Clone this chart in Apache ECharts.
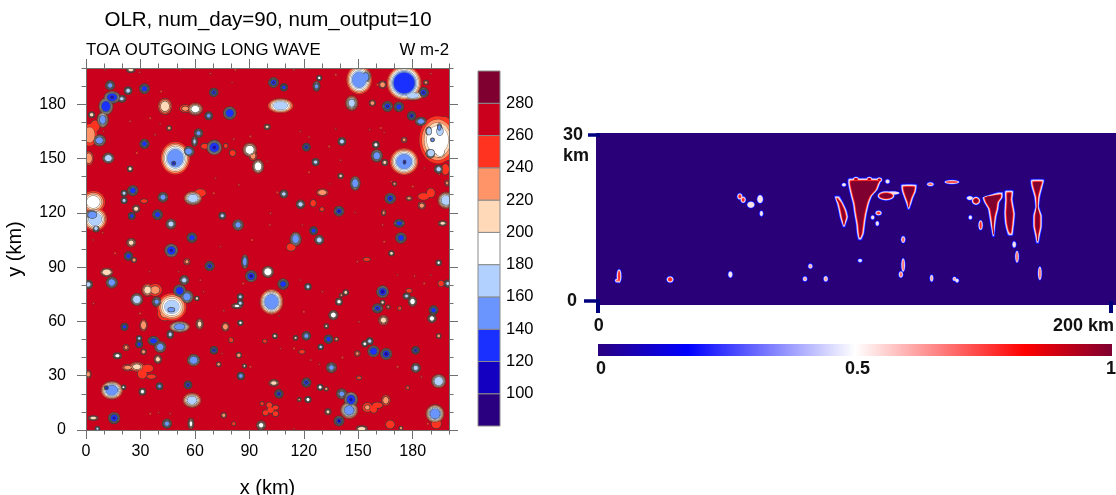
<!DOCTYPE html>
<html><head><meta charset="utf-8">
<style>html,body{margin:0;padding:0;background:#fff}#c{width:1116px;height:495px}</style>
<script src="https://cdn.jsdelivr.net/npm/echarts@6/dist/echarts.min.js"></script>
</head><body><div id="c"></div>
<script>
// ---- axis ticks / labels
const olrMajorTicks=[0,30,60,90,120,150,180];
const olrLevels=[260,240,220,200,180,160,140,120,100];
const olrLevelColors=['#ff3320','#ff9468','#ffd9b8','#ffffff','#b3d1ff','#6a95ff','#1a30ff','#1400c0','#2a0080'];
const olrBarEdges=[80,100,120,140,160,180,200,220,240,260,280,300];
const olrBarColors=['#2a0080','#1400c0','#1a30ff','#6a95ff','#b3d1ff','#ffffff','#ffd9b8','#ff9468','#ff3320','#ca001c','#7f0030'];
const olrBarLabels=[100,120,140,160,180,200,220,240,260,280];
const fractionStops=[[0,'#2a0080'],[0.175,'#0000ff'],[0.5,'#ffffff'],[0.83,'#ff0000'],[1,'#7f0030']];
// ---- OLR storm cells: [x km, y km, x half width km, y half width km, minimum W m-2]
const olrCellsNorthWest=[
[13.3,190.4,2.4,2.4,150],[23.2,187.5,2,2,165],[32.2,188.6,2.6,2.6,125],[14.4,183.8,4.3,3.3,115],[11,178.8,3.8,4.6,125],
[9.2,171.4,3,4.2,150],[19.7,183,2.2,1.8,175],[3.1,174.2,1.5,1.5,200],[2,163,4,6,225],[5,168,2.5,3,240],[7.4,160,3.3,3,155],[12.3,150.2,3,2.7,165],
[1.5,150.2,2.4,3.7,225],[32.2,158.1,2.4,2.4,125],[24.3,144.3,1.4,1.4,200],[43.5,178.8,3.7,4.4,205],[60.2,177.3,4,3.3,190],
[54.7,177.6,3,2,238],[67.6,173.6,2,2,150],[70.4,186.5,2.2,2.2,115],[79.2,175.1,3.4,3.4,130],[62,164,2.2,2.2,150],[59.8,159.4,1.4,2.5,175],
[56.5,153.9,3,2.6,145],[49.2,150.2,8,9,150],[48.3,147.4,1.8,1.8,118],[70.7,156.1,4,4,115],[65.5,156.8,2,1.4,240],[90.2,154.8,3.7,3.7,190],
[92,151.5,2,2.5,225],[94.8,145.6,3,3.7,190],[80.8,153,1.6,1.6,240],[77,157,1,1.2,240],[25.8,132.3,2.7,2.7,130],[21,130.8,1.5,1.5,165],[21,126.8,1.5,1.5,160],
[27.6,122.3,1.9,1.9,205],[25.2,118.3,1.7,1.7,125],[32,126.5,1.8,1,240],[42.4,128.6,2.6,2.6,140],[58.9,128,4.8,3.7,165],[63,131,3,2,240],
[39.4,119,2.6,2.6,125],[46.8,113.8,2.6,2.6,160],[58.4,106.3,2.6,2.6,130],[75.1,118.4,1.7,1.7,170],[83.8,113.3,2.8,2.8,140],
[4,126,6.5,6,190],[5,116.5,6.5,6.5,170],[3.5,118.8,3.8,3,145],[5.5,111.5,1.8,2,160],[24.7,199,2.2,1.4,200],[24.9,103.5,2.4,2.2,210],[47,99.2,3.5,3.5,116],
[45.8,166.8,1.1,1.1,220],[99.8,167.5,1.5,1.3,215],[103.3,192,2.6,2.6,115],[107.2,179.2,7,4,170],[96,145,1.5,2,235]
];
const olrCellsNorthEast=[
[109,189.3,1.8,1.8,130],[127,189.9,1.8,2.6,155],[128.5,194.5,1.2,1.2,190],[150.5,193.5,7,8,150],[154,195,3,4,145],[163.4,190.8,1.8,1.8,220],
[175.3,191.7,9.5,9.5,122],[180,184.8,6,2.5,170],[185.9,186.5,2.6,2.6,115],[187.3,192,1.2,1,235],[146.4,180.6,3.3,4,175],[157.8,180.6,1.5,1.5,225],
[166.1,178.8,2.7,2.7,115],[172.4,178.6,2.5,2.5,135],[179.4,173.6,2.2,2.2,110],[184.5,170.5,3,2.2,155],[193.7,160.3,10,13,184],[197.5,170,3,3,240],[191,168,3,3,240],[199,152,2,3,240],
[195,154.3,4,4.8,180],[190.9,160.3,1.5,1.5,150],[194.7,167.1,1.5,2.8,150],[190,153,3,3,165],[195,165,3,4,165],[189,165,2,3,165],[141,159.4,2,2,160],[121.4,156.3,2,2,115],[175.3,160.3,1.3,1.3,235],
[159.7,157.6,1.7,1.7,190],[160.2,151.5,3,3.3,150],[164.6,147.8,1.5,1.5,210],[175.3,148.3,7.8,7.4,150],[175.5,148,1.2,2,115],[126.5,148,1.8,1.8,165],[140.3,140.4,1.3,1.3,215],
[148.3,136.3,2.6,3.7,145],[194.3,144.1,2.2,2.2,160],[198,144,2,3,240],[109,130.4,2,2,170],[130.2,131.2,3,1.8,225],[118.2,124.7,2.2,2.2,160],
[125.2,125.3,1.5,1.8,240],[139.4,120.9,2.6,2.6,112],[167.6,127.9,2.8,2.8,115],[186,129,3,1.8,240],[190,131,2.2,2.4,240],[178,128,1.5,1,230],[185,124,1.8,1.8,225],
[198.4,126.9,4.5,4.5,165],[172.6,114.2,2.8,2,125],[173.5,106.1,2.8,2.8,120],[196.5,114.2,2.2,1.3,205],[115.5,105.5,3,3.7,150],[113,101,2.4,2,240],
[125.4,110.1,2,2,125],[128.5,105,2.4,2.4,160],[170,136,1,1,235],[164,120,1,1.4,235],[198.9,136.4,1,1.4,235],[130,122,1,1,240]
];
const olrCellsSouthWest=[
[23.4,96.1,2.2,2.2,125],[26.5,93.9,1.2,1.2,220],[1.3,80.4,2.2,2.2,160],[14.2,81.5,3,3,150],[11.4,87.1,3.3,2.2,200],[55.6,93,1.5,1.5,235],
[68.1,90.6,2.4,2.4,115],[87.5,93,1.7,3.7,155],[91,85,3,3,112],[100.2,87.4,3,3,180],[54.1,82.8,2.4,2.4,165],[51.6,76.9,3.3,3.3,122],
[55.6,73.6,3.4,3.4,150],[61.1,72.7,1,1,200],[102.2,70.8,6.4,7,140],[85,73.6,1.5,1.5,170],[85,70,1.5,1.5,160],[83.2,68.5,2.8,1.2,195],
[28,72.1,3.2,3.2,160],[33.9,77.3,3,3.3,215],[38.1,77.3,3.7,3.3,235],[39,70.8,2.5,2.5,155],[47.3,68,8,7.5,178],[43.5,64.5,4,4,235],[47,66.5,3,1.8,150],
[31.7,57.9,1.9,3,225],[21.2,57,1.8,1.8,120],[51.6,57,5.5,3,155],[62.6,58.5,1.9,2.8,210],[46.4,52.8,1.6,2,165],[29.3,50.6,1.3,1.3,170],
[29.3,47.4,1.7,1.7,120],[37.2,49.3,3,2.2,125],[40.9,45.9,3,3,150],[39.6,39.1,1.9,2.2,205],[31.7,43.2,1.3,1.3,225],[22.1,45.6,1.5,1.5,235],
[17.3,41,2.2,1.5,185],[59.3,38.6,3.3,3.1,140],[70.5,44.1,1.9,1.9,115],[76.8,57,1.9,2.2,220],[80,49.6,1.1,1.1,240],[84.2,41.3,1.3,1.3,220],
[73.1,36.3,1.1,1.1,225],[87.3,35.4,.9,.9,210],[85.3,29.9,1.9,1.9,140],[1.3,30.8,1.3,1.9,225],[28,35,4,2.5,215],[23,34.5,3,1.6,235],[34,34,3,2,240],[31,31,2.5,2.5,245],[36,29.5,2.5,1.2,245],
[14.2,22,6,5,150],[11.4,23.2,1.4,1.4,118],[20.6,23.6,1.2,1,195],[40.5,24.2,1.7,1.7,150],[31.1,21.2,1.7,1.7,190],[56.2,24.9,2,2,115],
[58.4,16.4,5,4,175],[103.5,26,2.6,1.7,205],[106.3,20,2.2,2.2,112],[4,6.6,2.6,1.1,200],[15.5,6.6,3,3,115],[6.3,.7,1.1,1.1,170],
[44.6,3.5,2.4,2.4,150],[57.8,3.5,1.5,2.8,195],[75.9,8.1,1.3,1.3,225],[81.4,3.5,.9,.9,240],[96.5,2.6,2.4,2.4,190],[101,13.7,1.5,1.5,240],[104.4,12.4,1.6,1.2,240],[98.9,9.5,1.5,1.4,240],[104.4,9,1.5,1.3,240],[101.7,11,1.8,1.6,240],
[97,14.6,.9,.9,245],[85.1,59.2,1.3,1.3,190],[104.4,51.8,1,1,230],[98.5,49,1,.8,240]
];
const olrCellsSouthEast=[
[168.3,97.6,1.3,1.3,200],[154.7,94.3,1.8,.9,245],[194.3,92.4,1.3,1.3,190],[108.6,80.6,2.8,2.8,120],[122.3,79.2,1.6,1.6,170],[199.3,80.9,1.8,1.8,175],
[195.6,80.9,1.5,1.5,245],[163.4,76.4,3.2,3.2,108],[176.6,74,1.8,1.5,175],[179.9,71,2.2,2.6,180],[178,77,1.5,1,240],[139.4,70.9,1.7,1.7,185],[143.1,76,1.3,1.3,205],
[140.7,74.5,.9,.9,235],[160.6,67.2,2.8,2.4,115],[163.4,70.5,1.1,1.1,205],[166.5,68,.9,.9,235],[191.5,66.2,2.3,2.3,120],[190.6,61.6,2.2,2.2,185],
[136.3,63.5,2.4,2.4,180],[163.9,60.7,2.6,2.6,210],[132.4,57.4,1.1,1.1,215],[172.8,67.3,.9,.9,240],[121.4,52,2.2,2.2,145],[104,52,1.1,1.1,205],
[115.5,50.9,1.1,1.1,215],[133.6,50.2,2.2,2.2,125],[138,50.2,.9,.9,225],[129.3,45.9,1.3,1.3,165],[153.6,47.6,1.5,1.5,190],[156.3,49.1,1.7,1.7,165],
[158.4,43.5,3,3,125],[165.4,42,3,3,108],[181.6,44,1.9,1.9,115],[194.3,52,1.1,1.1,225],[135.2,34.5,2.7,2.7,150],[181.7,34.3,2.4,2.4,170],
[194.3,27,3.8,3.6,165],[121.4,26.2,2.4,2.4,115],[129,23.6,1.5,1.5,185],[132.4,22.7,.9,.9,225],[122.3,16.8,1.5,1.5,180],[117.5,16.8,.9,.9,235],
[140.9,20,2.7,2.7,150],[146,16.8,3.6,4,115],[145,10.9,4.7,4.6,150],[133.3,10.1,1.5,1.5,215],[139.4,5,2.6,2.6,108],[155,12.5,2.6,2.4,238],[158.5,11.5,1.8,2,240],
[165.2,16.4,2.2,2.8,225],[160.6,13.7,2.8,1.5,240],[192.3,9,5,5,150],[193,3.5,2.6,2.6,240],[151.9,.7,3,1.5,205],[167.6,3,2.4,2.2,245],
[173.5,1,.9,.9,225],[119,43.2,1.5,1,245],[149.5,42.3,1.3,1.3,235],[150.4,28.8,1.3,.8,240],[177.2,23.4,.8,.8,240]
];
// tiny isolated contours: [x km, y km]
const olrSpecks=[[10.5,199],[29.5,197.6],[41.4,187],[52,199],[68.5,196.9],[82.3,199],[80.5,192],[24.3,170.5],[35.4,172.3],[40.9,169.2],[38.1,163.1],[28,153],[9.6,165],[81.4,160.7],[90.6,162.2],[71.3,139.1],[84.2,135.4],[70.4,130.8],[99.8,148.4],[101.3,113.3],[91.5,105],[4,105],[9.2,109],[31.7,126.7],[74,101.3],[114.5,199],[137.6,196.3],[118.1,165],[122.9,161.8],[134,156.6],[137.6,166.4],[156.3,165.9],[162.4,166.8],[164.3,164.4],[140.3,149],[122.9,142.4],[134.3,136],[168.2,137.3],[105.4,131.2],[148.3,120.1],[164.3,121.2],[180,134.5],[194.7,141.1],[190,196.9],[160.6,190.8],[186.4,144.7],[163.4,113.3],[164.3,104],[119.2,113.3],[101.7,119.7],[16,97.6],[35,87.5],[4.1,69.9],[29.8,64.4],[64.8,76.4],[75.9,65.9],[79.6,50.6],[51,87.5],[63,82.8],[90.6,34.9],[40,9.6],[46.4,9],[35.4,9],[75,42.3],[98.9,48.7],[86.6,81],[118.2,82.8],[130.2,76.4],[120,65.3],[106.3,63.1],[150.4,59.8],[141.3,40],[128.6,36.3],[123.8,38.6],[171.7,34.9],[171.6,85.6],[181,85],[186.4,81],[190,85.6],[149.5,93],[114.6,45],[107.2,45],[184.8,29.3],[188.3,3.5],[114.6,.7]];
// ---- cross-section cloud fraction: small parts [x km, z km, x half width, z half width, peak fraction]
const cloudLow=[[8.2,4.5,.9,1.2,.85],[7.5,3.7,.9,.35,.7],[28.1,3.9,1.3,.55,.8],[51.6,4.8,.8,.55,.55],[80.7,4,.8,.42,.65],[88.8,4,.8,.48,.65],[82.8,6.3,.8,.42,.65],
[102.2,7.3,.8,.3,.5],[119,11.1,.8,.6,.7],[119,6.5,.7,1.2,.75],[118.1,4.8,.8,.55,.7],[130.1,4.1,.65,.6,.65],[139,4,.7,.35,.65],[140,3.7,.7,.35,.6],[162.3,10.2,.7,.55,.6],[163.4,8,.7,1.05,.75],[172.3,5,.7,1.2,.75]];
const cloudUpper=[[63.7,15.8,.65,.48,.55],[55.3,18.9,1,.55,.8],[56.6,18.3,1,.55,.8],[59.6,17.4,1.4,.55,.55],[63.2,18.4,1.1,.72,.55],
[95.9,21,.8,.3,.6],[112.9,21.6,.8,.36,.6],[112.3,19,3.2,.8,1],[114.9,19.5,2.6,.3,.55],[107.1,15.1,.65,.36,.6],[109.4,15.9,1.2,.42,.8],[108.9,14,.65,.42,.6],
[100.6,22,1.1,.4,1],[105.8,22,1.1,.4,1],[109.7,21.9,1,.4,1],
[129.6,21.1,1.3,.35,.75],[138,21.5,2.8,.35,.8],[145.2,15.1,.65,.36,.6],[147.4,18.1,1.6,.72,1],[145,18.6,1.2,.36,.6],[149.2,13.7,.8,.85,.85]];
// towers: width profile rows [z km, left x km, right x km], top to bottom
const towerMain=[[22.1,97.7,110.5],[21.3,97.5,110],[20.1,98,109],[18.9,98.6,106.8],[17.7,99.3,105.8],[15.8,99.9,104.8],[14,100.6,104.2],[12.2,101,103.7],[11.1,101.6,102.7]];
const towerAnvil=[[21,118.3,124.2],[19.8,118.5,124],[18.6,119.4,122.9],[17.7,120.1,122.3],[16.6,120.9,121.4]];
const towerWest=[[18.9,92.3,94.1],[17.7,93.1,95.6],[16.4,93.8,96.9],[15.2,94.3,97.5],[14,95.1,96.7],[13.4,95.6,96.2]];
const towerEastA=[[19.6,155.9,157.8],[18.7,150,157.8],[17.8,150.6,156.5],[16.7,152,156.2],[15.2,152.6,155.4],[13.4,153.2,154.9],[11.7,153.9,154.5]];
const towerEastB=[[19.9,158.7,161.9],[18.3,158.7,161.7],[15.8,158.4,162.6],[14,158.7,162.3],[12.8,159.3,162],[11.9,160,161.7]];
const towerEastC=[[21.9,168.8,173.9],[20.7,169,173.4],[18.9,170.1,172.4],[17,170.5,172],[15.5,169.7,173.1],[13.4,169.7,173.1],[11.9,170.4,172.4],[10.5,171,171.8]];
const cloudTowers=[towerMain,towerAnvil,towerWest,towerEastA,towerEastB,towerEastC];

const allCells=[...olrCellsNorthWest,...olrCellsNorthEast,...olrCellsSouthWest,...olrCellsSouthEast];

function hex(c){return [1,3,5].map(i=>parseInt(c.substr(i,2),16));}
function fractionColor(v){
  for(let i=1;i<fractionStops.length;i++){
    if(v<=fractionStops[i][0]){
      const a=fractionStops[i-1],b=fractionStops[i],t=(v-a[0])/(b[0]-a[0]),A=hex(a[1]),B=hex(b[1]);
      return 'rgb('+A.map((x,k)=>Math.round(x+(B[k]-x)*t)).join(',')+')';
    }
  }
  return fractionStops[fractionStops.length-1][1];
}
// how far out from a cell's centre a contour level sits, as a share of its half width
function levelShare(L,m,size){
  if(m<140){
    const edge=size<3?.52:.6;
    if(L>=140) return edge+(1-edge)*(L-140)/120;
    return edge*Math.pow((L-m)/(140-m),.7);
  }
  const base=size<3?.42:(size>=4?.48:.55);
  return base+(1-base)*(L-m)/(260-m);
}
// contour layers: every level is drawn as outlines first, then fills, so touching cells merge
const olrLayers=[];
olrLevels.forEach((L,li)=>{
  const items=[];
  allCells.forEach(c=>{ if(c[4]<L){
    const size=Math.max(c[2],c[3]);
    const f=levelShare(L,c[4],size);
    items.push([c[0],c[1],c[2]*f,c[3]*f,Math.max(.65,1.9-.16*size)]);
  }});
  if(L===260) olrSpecks.forEach((s,i)=>{const r=.35+(i%3)*.1;items.push([s[0],s[1],r,r,1]);});
  olrLayers.push({color:olrLevelColors[li],items});
});
const olrData=[];
olrLayers.forEach((l,li)=>{ [0,1].forEach(pass=>l.items.forEach(it=>olrData.push([it[0],it[1],it[2],it[3],li,pass,it[4]]))); });

const cloudParts=[...cloudLow,...cloudUpper];
const cloudSteps=[.06,.14,.22,.3,.38,.46,.54,.62,.7,.78,.86,.94,1];
const cloudData=[]; // [kind 0 part / 1 tower, index, fraction]
cloudSteps.forEach(v=>{
  cloudParts.forEach((p,i)=>{ if(p[4]>=v) cloudData.push([0,i,v]); });
  cloudTowers.forEach((t,i)=>cloudData.push([1,i,v]));
});

const font='"Liberation Sans",Arial,sans-serif';
const gray='#707070';
const lab={fontFamily:font,fontSize:16,color:'#000'};
function mapAxis(position,gridIndex,major,labels,extra){
  const a=Object.assign({type:'value',gridIndex,position,min:0,max:200,interval:10,z:10,
    axisLine:{show:true,onZero:false,lineStyle:{color:gray,width:1}},splitLine:{show:false},
    axisTick:{show:true,length:major?9:4.5,lineStyle:{color:gray,width:1}},axisLabel:{show:false}},extra||{});
  if(major) a.axisTick.customValues=olrMajorTicks;
  if(labels) a.axisLabel=Object.assign({show:true,customValues:olrMajorTicks},lab,labels);
  return a;
}
const navy='#00007f';
const bold={fontFamily:font,fontSize:18,fontWeight:'bold',color:'#111'};
function sectionY(value,len,label,margin){
  return {type:'value',gridIndex:2,position:'left',min:-.72,max:30.36,offset:-4,z:10,
    axisLine:{show:false},splitLine:{show:false},
    axisTick:{show:len>0,length:len,customValues:[value],lineStyle:{color:navy,width:3.5,cap:'butt'}},
    axisLabel:Object.assign({show:true,customValues:[value],margin,formatter:()=>label},bold)};
}
const xAxes=[
  mapAxis('bottom',0,false),mapAxis('bottom',0,true,{margin:14},{name:'x (km)',nameLocation:'middle',nameGap:48,nameTextStyle:{fontFamily:font,fontSize:20,color:'#000'}}),
  mapAxis('top',0,false),mapAxis('top',0,true),
  {type:'value',gridIndex:1,min:0,max:1,axisLine:{show:false},axisTick:{show:false},axisLabel:{show:false},splitLine:{show:false}},
  {type:'value',gridIndex:2,position:'bottom',min:-.8,max:202,offset:-4,z:10,axisLine:{show:false},splitLine:{show:false},
    axisTick:{show:true,length:12,customValues:[0,200],lineStyle:{color:navy,width:4,cap:'butt'}},
    axisLabel:Object.assign({show:true,customValues:[.3,189.3],margin:16,formatter:v=>v<1?'0':'200 km'},bold)},
  {type:'value',gridIndex:3,min:0,max:1,axisLine:{show:false},axisTick:{show:false},splitLine:{show:false},
    axisLabel:Object.assign({show:true,customValues:[.006,.505,.998],margin:4,formatter:v=>String(Math.round(v*2)/2)},bold)}
];
const yAxes=[
  mapAxis('left',0,false),mapAxis('left',0,true,{margin:20,padding:[4,0,0,0]},{name:'y (km)',nameLocation:'middle',nameGap:61,nameTextStyle:{fontFamily:font,fontSize:20,color:'#000'}}),
  mapAxis('right',0,false),mapAxis('right',0,true),
  {type:'value',gridIndex:1,position:'right',min:80,max:300,axisLine:{show:false},axisTick:{show:false},splitLine:{show:false},
    axisLabel:Object.assign({show:true,customValues:olrBarLabels,margin:6,padding:[5,0,0,0]},lab,{fontSize:16.5})},
  sectionY(30,12,'30',17),sectionY(26.2,0,'km',11),sectionY(0,16,'0',23),
  {type:'value',gridIndex:3,min:0,max:1,axisLine:{show:false},axisTick:{show:false},axisLabel:{show:false},splitLine:{show:false}}
];
const gridBase={outerBoundsMode:'none',containLabel:false};
const option={
  animation:false,backgroundColor:'#fff',
  title:[
    {text:'OLR, num_day=90, num_output=10',left:268,top:10,padding:0,textAlign:'center',textStyle:{fontFamily:font,fontSize:20.5,fontWeight:'normal',color:'#000'}},
    {text:'TOA OUTGOING LONG WAVE',left:86,top:42,padding:0,textStyle:{fontFamily:font,fontSize:16.8,fontWeight:'normal',color:'#000'}},
    {text:'W m-2',left:449,top:42,padding:0,textAlign:'right',textStyle:{fontFamily:font,fontSize:16.8,fontWeight:'normal',color:'#000'}}
  ],
  grid:[
    Object.assign({left:86,top:68,width:363,height:362,show:true,backgroundColor:'#ca001c',borderWidth:0},gridBase),
    Object.assign({left:478,top:71,width:22,height:355},gridBase),
    Object.assign({left:596,top:133,width:520,height:172,show:true,backgroundColor:'#2a0078',borderWidth:0},gridBase),
    Object.assign({left:598,top:344,width:514,height:12},gridBase)
  ],
  xAxis:xAxes,yAxis:yAxes,
  series:[
    {type:'custom',xAxisIndex:0,yAxisIndex:0,clip:true,silent:true,data:olrData,encode:{x:0,y:1},
      renderItem(p,api){
        const c=api.coord([api.value(0),api.value(1)]),s=api.size([api.value(2),api.value(3)]);
        const li=api.value(4),pass=api.value(5);
        return {type:'ellipse',shape:{cx:c[0],cy:c[1],rx:s[0],ry:s[1]},
          style:pass===0?{fill:'none',stroke:'#404040',lineWidth:api.value(6),opacity:.85}:{fill:olrLayers[li].color,stroke:null}};
      }},
    {type:'custom',xAxisIndex:4,yAxisIndex:4,silent:true,clip:false,
      data:olrBarColors.map((col,i)=>[olrBarEdges[i],olrBarEdges[i+1],i]),encode:{y:[0,1]},
      renderItem(p,api){
        const a=api.coord([0,api.value(0)]),b=api.coord([1,api.value(1)]);
        return {type:'rect',shape:{x:a[0],y:b[1],width:b[0]-a[0],height:a[1]-b[1]},
          style:{fill:olrBarColors[api.value(2)],stroke:'#8a8a8a',lineWidth:1}};
      }},
    {type:'custom',xAxisIndex:5,yAxisIndex:5,clip:true,silent:true,data:cloudData,
      renderItem(p,api){
        const kind=api.value(0),idx=api.value(1),v=api.value(2);
        const fill=fractionColor(v);
        if(kind===0){
          const q=cloudParts[idx];
          const c=api.coord([q[0],q[1]]),s=api.size([q[2],q[3]]);
          const sx=s[0]+1.2,sy=s[1]+1.2;
          const inset=(v/q[4])*Math.min(3.4*q[4],.85*Math.min(sx,sy));
          return {type:'ellipse',shape:{cx:c[0],cy:c[1],rx:sx-inset,ry:sy-inset},style:{fill,stroke:null}};
        }
        const rows=cloudTowers[idx],inset=4*v-1.2;
        const left=[],right=[];
        rows.forEach((r,i)=>{
          const a=api.coord([r[1],r[0]]),b=api.coord([r[2],r[0]]);
          let xl=a[0]+inset,xr=b[0]-inset;
          if(xr-xl<.5){const m=(a[0]+b[0])/2;xl=m-.25;xr=m+.25;}
          left.push([xl,a[1]]);right.push([xr,b[1]]);
        });
        left[0][1]+=inset;right[0][1]+=inset;
        const cut=Math.min(inset,3);
        left[left.length-1][1]-=cut;right[right.length-1][1]-=cut;
        return {type:'polygon',shape:{points:left.concat(right.reverse()),smooth:0.15},style:{fill,stroke:null}};
      }},
    {type:'custom',xAxisIndex:6,yAxisIndex:8,silent:true,clip:false,data:[[0,1]],encode:{x:[0,1]},
      renderItem(p,api){
        const a=api.coord([api.value(0),0]),b=api.coord([api.value(1),1]);
        return {type:'rect',shape:{x:a[0],y:b[1],width:b[0]-a[0],height:a[1]-b[1]},
          style:{fill:new echarts.graphic.LinearGradient(0,0,1,0,fractionStops.map(s=>({offset:s[0],color:s[1]})))}};
      }}
  ]
};
const chart=echarts.init(document.getElementById('c'),null,{renderer:'canvas'});
chart.setOption(option);
</script></body></html>
